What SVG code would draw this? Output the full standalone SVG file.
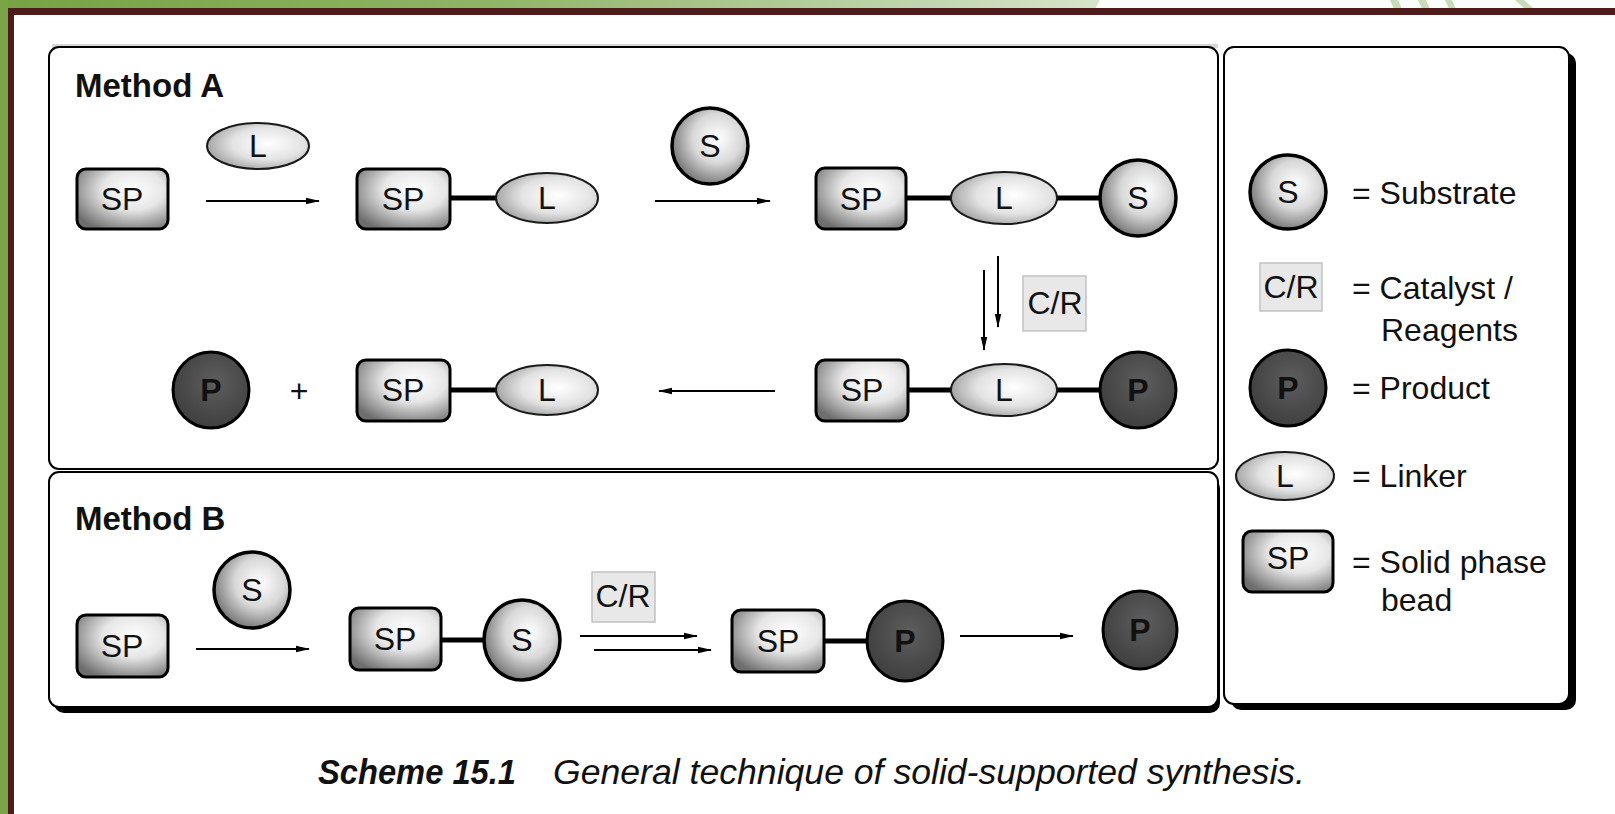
<svg xmlns="http://www.w3.org/2000/svg" width="1615" height="814" viewBox="0 0 1615 814">
<defs>
<linearGradient id="gTop" x1="0" y1="0" x2="1" y2="0">
<stop offset="0" stop-color="#76a244"/>
<stop offset="0.3" stop-color="#8fb465"/>
<stop offset="0.5" stop-color="#b3cc9b"/>
<stop offset="0.68" stop-color="#d6e4cb"/>
<stop offset="1" stop-color="#eef4ea"/>
</linearGradient>
<radialGradient id="gSP" cx="0.62" cy="0.35" r="0.75">
<stop offset="0" stop-color="#ffffff"/>
<stop offset="0.45" stop-color="#e6e6e6"/>
<stop offset="1" stop-color="#6e6e6e"/>
</radialGradient>
<radialGradient id="gS" cx="0.6" cy="0.4" r="0.65">
<stop offset="0" stop-color="#ffffff"/>
<stop offset="0.5" stop-color="#d8d8d8"/>
<stop offset="1" stop-color="#707070"/>
</radialGradient>
<radialGradient id="gL" cx="0.6" cy="0.45" r="0.65">
<stop offset="0" stop-color="#ffffff"/>
<stop offset="0.55" stop-color="#e2e2e2"/>
<stop offset="1" stop-color="#9a9a9a"/>
</radialGradient>
<radialGradient id="gP" cx="0.55" cy="0.4" r="0.7">
<stop offset="0" stop-color="#5e5e5e"/>
<stop offset="1" stop-color="#3a3a3a"/>
</radialGradient>
<marker id="ah" viewBox="0 0 14 8" markerWidth="14" markerHeight="8" refX="13" refY="4" orient="auto" markerUnits="userSpaceOnUse">
<path d="M0,0.8 L14,4 L0,7.2 Z" fill="#000"/>
</marker>
<style>
.frame{fill:#fff;stroke:#000;stroke-width:2}
.shadow{fill:#000}
.sp{fill:url(#gSP);stroke:#000;stroke-width:3}
.s{fill:url(#gS);stroke:#000;stroke-width:3.5}
.l{fill:url(#gL);stroke:#1a1a1a;stroke-width:2}
.p{fill:url(#gP);stroke:#000;stroke-width:3}
.cr{fill:#e8e8e8;stroke:#c2c2c2;stroke-width:1.5}
.bond{stroke:#000;stroke-width:5}
.arr{stroke:#000;stroke-width:2;fill:none;marker-end:url(#ah)}
text{font-family:"Liberation Sans",Arial,Helvetica,sans-serif}
.t{font-size:32px;text-anchor:middle;fill:#111}
.tp{font-size:32px;text-anchor:middle;fill:#111;font-weight:bold}
.h{font-size:33px;font-weight:bold;fill:#111}
.lg{font-size:32px;fill:#111}
.cap{font-size:35px;font-style:italic;fill:#111}
</style>
</defs>

<!-- background -->
<rect x="0" y="0" width="1615" height="814" fill="#fff"/>
<rect x="0" y="0" width="1615" height="9" fill="url(#gTop)"/>
<polygon points="1100,0 1615,0 1615,9 1095,9" fill="#fbfdfa"/>
<polygon points="1390,0 1398,0 1402,9 1394,9" fill="#c9dcba"/>
<polygon points="1418,0 1426,0 1430,9 1422,9" fill="#c9dcba"/>
<polygon points="1445,0 1452,0 1456,9 1449,9" fill="#c9dcba"/>
<polygon points="1515,0 1524,0 1534,9 1525,9" fill="#c9dcba"/>
<rect x="0" y="0" width="8" height="814" fill="#79a447"/>
<rect x="8" y="8" width="1607" height="7" fill="#4f1a1a"/>
<rect x="8" y="8" width="6" height="806" fill="#4f1a1a"/>

<!-- panels -->
<g id="panelA">
<rect x="52" y="44" width="1166" height="4" fill="#d6d6d6"/>
<rect class="frame" x="49" y="47" width="1169" height="422" rx="10"/>
<text class="h" x="75" y="97">Method A</text>
</g>
<g id="panelB">
<rect class="shadow" x="54" y="478" width="1166" height="235" rx="10"/>
<rect class="frame" x="49" y="472" width="1169" height="235" rx="10"/>
<text class="h" x="75" y="530">Method B</text>
</g>
<g id="legend">
<rect class="shadow" x="1231" y="53" width="345" height="657" rx="10"/>
<rect class="frame" x="1224" y="47" width="345" height="657" rx="10"/>
</g>

<!-- connectors -->
<g id="connectors">
<line class="arr" x1="206" y1="201" x2="319" y2="201"/>
<line class="arr" x1="655" y1="201" x2="770" y2="201"/>
<line class="arr" x1="998" y1="256" x2="998" y2="327"/>
<line class="arr" x1="984" y1="270" x2="984" y2="350"/>
<line class="arr" x1="775" y1="391" x2="659" y2="391"/>
<line class="arr" x1="196" y1="649" x2="309" y2="649"/>
<line class="arr" x1="580" y1="636" x2="697" y2="636"/>
<line class="arr" x1="594" y1="650" x2="711" y2="650"/>
<line class="arr" x1="960" y1="636" x2="1073" y2="636"/>
<line class="bond" x1="450" y1="198" x2="497" y2="198"/>
<line class="bond" x1="906" y1="198" x2="952" y2="198"/>
<line class="bond" x1="1056" y1="198" x2="1102" y2="198"/>
<line class="bond" x1="450" y1="390" x2="497" y2="390"/>
<line class="bond" x1="906" y1="390" x2="952" y2="390"/>
<line class="bond" x1="1056" y1="390" x2="1102" y2="390"/>
<line class="bond" x1="441" y1="640" x2="484" y2="640"/>
<line class="bond" x1="824" y1="641" x2="868" y2="641"/>
</g>

<!-- Method A row 1 -->
<g id="a_sp1"><rect class="sp" x="77" y="169" width="91" height="60" rx="9"/><text class="t" x="122" y="210">SP</text></g>
<g id="a_L_reagent"><ellipse class="l" cx="258" cy="146" rx="51" ry="23"/><text class="t" x="258" y="157">L</text></g>
<g id="a_sp2"><rect class="sp" x="357" y="169" width="93" height="60" rx="9"/><text class="t" x="403" y="210">SP</text></g>
<g id="a_L2"><ellipse class="l" cx="547" cy="198" rx="51" ry="25"/><text class="t" x="547" y="209">L</text></g>
<g id="a_S_reagent"><circle class="s" cx="710" cy="146" r="38"/><text class="t" x="710" y="157">S</text></g>
<g id="a_sp3"><rect class="sp" x="816" y="168" width="90" height="61" rx="9"/><text class="t" x="861" y="210">SP</text></g>
<g id="a_L3"><ellipse class="l" cx="1004" cy="198" rx="53" ry="26"/><text class="t" x="1004" y="209">L</text></g>
<g id="a_S3"><circle class="s" cx="1138" cy="198" r="38"/><text class="t" x="1138" y="209">S</text></g>
<g id="a_CR"><rect class="cr" x="1023" y="276" width="63" height="55"/><text class="t" x="1055" y="314">C/R</text></g>

<!-- Method A row 2 -->
<g id="a_P_out"><circle class="p" cx="211" cy="390" r="38"/><text class="tp" x="211" y="401">P</text></g>
<g id="a_plus"><text class="t" x="299" y="402">+</text></g>
<g id="a_sp4"><rect class="sp" x="357" y="360" width="93" height="61" rx="9"/><text class="t" x="403" y="401">SP</text></g>
<g id="a_L4"><ellipse class="l" cx="547" cy="390" rx="51" ry="25"/><text class="t" x="547" y="401">L</text></g>
<g id="a_sp5"><rect class="sp" x="816" y="360" width="92" height="61" rx="9"/><text class="t" x="862" y="401">SP</text></g>
<g id="a_L5"><ellipse class="l" cx="1004" cy="390" rx="53" ry="26"/><text class="t" x="1004" y="401">L</text></g>
<g id="a_P5"><circle class="p" cx="1138" cy="390" r="38"/><text class="tp" x="1138" y="401">P</text></g>

<!-- Method B -->
<g id="b_sp1"><rect class="sp" x="77" y="615" width="91" height="62" rx="9"/><text class="t" x="122" y="657">SP</text></g>
<g id="b_S_reagent"><circle class="s" cx="252" cy="590" r="38"/><text class="t" x="252" y="601">S</text></g>
<g id="b_sp2"><rect class="sp" x="350" y="608" width="91" height="62" rx="9"/><text class="t" x="395" y="650">SP</text></g>
<g id="b_S2"><ellipse class="s" cx="522" cy="640" rx="38" ry="40"/><text class="t" x="522" y="651">S</text></g>
<g id="b_CR"><rect class="cr" x="592" y="572" width="63" height="50"/><text class="t" x="623" y="607">C/R</text></g>
<g id="b_sp3"><rect class="sp" x="732" y="610" width="92" height="62" rx="9"/><text class="t" x="778" y="652">SP</text></g>
<g id="b_P3"><ellipse class="p" cx="905" cy="641" rx="38" ry="40"/><text class="tp" x="905" y="652">P</text></g>
<g id="b_P_out"><ellipse class="p" cx="1140" cy="630" rx="37" ry="39"/><text class="tp" x="1140" y="641">P</text></g>

<!-- Legend items -->
<g id="lg_S"><ellipse class="s" cx="1288" cy="192" rx="38" ry="37"/><text class="t" x="1288" y="203">S</text><text class="lg" x="1352" y="204">= Substrate</text></g>
<g id="lg_CR"><rect class="cr" x="1260" y="263" width="62" height="48"/><text class="t" x="1291" y="298">C/R</text><text class="lg" x="1352" y="299">= Catalyst /</text><text class="lg" x="1381" y="341">Reagents</text></g>
<g id="lg_P"><circle class="p" cx="1288" cy="388" r="38"/><text class="tp" x="1288" y="399">P</text><text class="lg" x="1352" y="399">= Product</text></g>
<g id="lg_L"><ellipse class="l" cx="1285" cy="476" rx="49" ry="24"/><text class="t" x="1285" y="487">L</text><text class="lg" x="1352" y="487">= Linker</text></g>
<g id="lg_SP"><rect class="sp" x="1243" y="531" width="90" height="61" rx="9"/><text class="t" x="1288" y="569">SP</text><text class="lg" x="1352" y="573">= Solid phase</text><text class="lg" x="1381" y="611">bead</text></g>

<!-- caption -->
<g id="caption">
<text class="cap" x="318" y="784" font-weight="bold" textLength="198" lengthAdjust="spacingAndGlyphs">Scheme 15.1</text>
<text class="cap" x="553" y="784" textLength="752" lengthAdjust="spacingAndGlyphs">General technique of solid-supported synthesis.</text>
</g>
</svg>
